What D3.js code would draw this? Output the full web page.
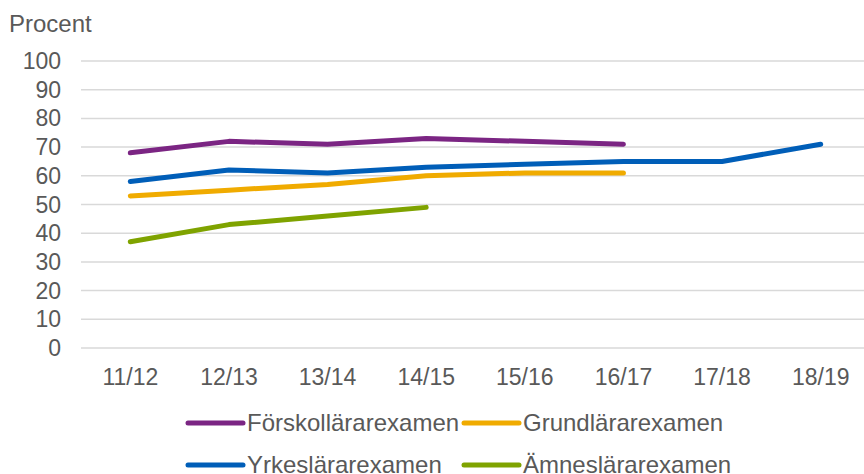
<!DOCTYPE html>
<html><head><meta charset="utf-8">
<script src="https://cdn.jsdelivr.net/npm/d3@7"></script>
<style>body{margin:0;background:#fff}svg text{font-family:"Liberation Sans",Arial,sans-serif;fill:#595959}</style>
</head><body>
<svg id="c" width="864" height="474"></svg>
<script>
const categories = ["11/12","12/13","13/14","14/15","15/16","16/17","17/18","18/19"];
const yTicks = [0,10,20,30,40,50,60,70,80,90,100];
const seriesNames = ["Förskollärarexamen","Grundlärarexamen","Yrkeslärarexamen","Ämneslärarexamen"];
const forskollarar = [68,72,71,73,72,71];
const grundlarar = [53,55,57,60,61,61];
const yrkeslarar = [58,62,61,63,64,65,65,71];
const amneslarar = [37,43,46,49];
const colors = ["#7B2583","#F0AB00","#005EB8","#7FA300"];

const series = [forskollarar, grundlarar, yrkeslarar, amneslarar];
const svg = d3.select("#c");
const x = d3.scaleBand().domain(categories).range([81, 870]);
const y = d3.scaleLinear().domain([0,100]).range([348, 61]);

svg.append("g").selectAll("line").data(yTicks).join("line")
  .attr("x1",81).attr("x2",864).attr("y1",d=>y(d)).attr("y2",d=>y(d))
  .attr("stroke","#d9d9d9").attr("stroke-width",1.5);
svg.append("g").selectAll("text").data(yTicks).join("text")
  .attr("x",61).attr("y",d=>y(d)+8).attr("text-anchor","end")
  .attr("font-size",23).text(d=>d);
svg.append("g").selectAll("text").data(categories).join("text")
  .attr("x",d=>x(d)+x.bandwidth()/2).attr("y",385).attr("text-anchor","middle")
  .attr("font-size",23).text(d=>d);
svg.append("text").attr("x",9).attr("y",32).attr("font-size",24).text("Procent");

const line = d3.line().x((d,i)=>x(categories[i])+x.bandwidth()/2).y(d=>y(d));
series.forEach((s,k)=>{
  svg.append("path").attr("d",line(s)).attr("fill","none").attr("stroke",colors[k])
    .attr("stroke-width",5).attr("stroke-linecap","round").attr("stroke-linejoin","round");
});

seriesNames.forEach((n,k)=>{
  const lx = k%2===0 ? 188 : 464;
  const ly = k<2 ? 423 : 465;
  svg.append("line").attr("x1",lx).attr("x2",lx+55).attr("y1",ly).attr("y2",ly)
    .attr("stroke",colors[k]).attr("stroke-width",5).attr("stroke-linecap","round");
  svg.append("text").attr("x",lx+59).attr("y",ly+8).attr("font-size",24).text(n);
});
</script>
</body></html>
